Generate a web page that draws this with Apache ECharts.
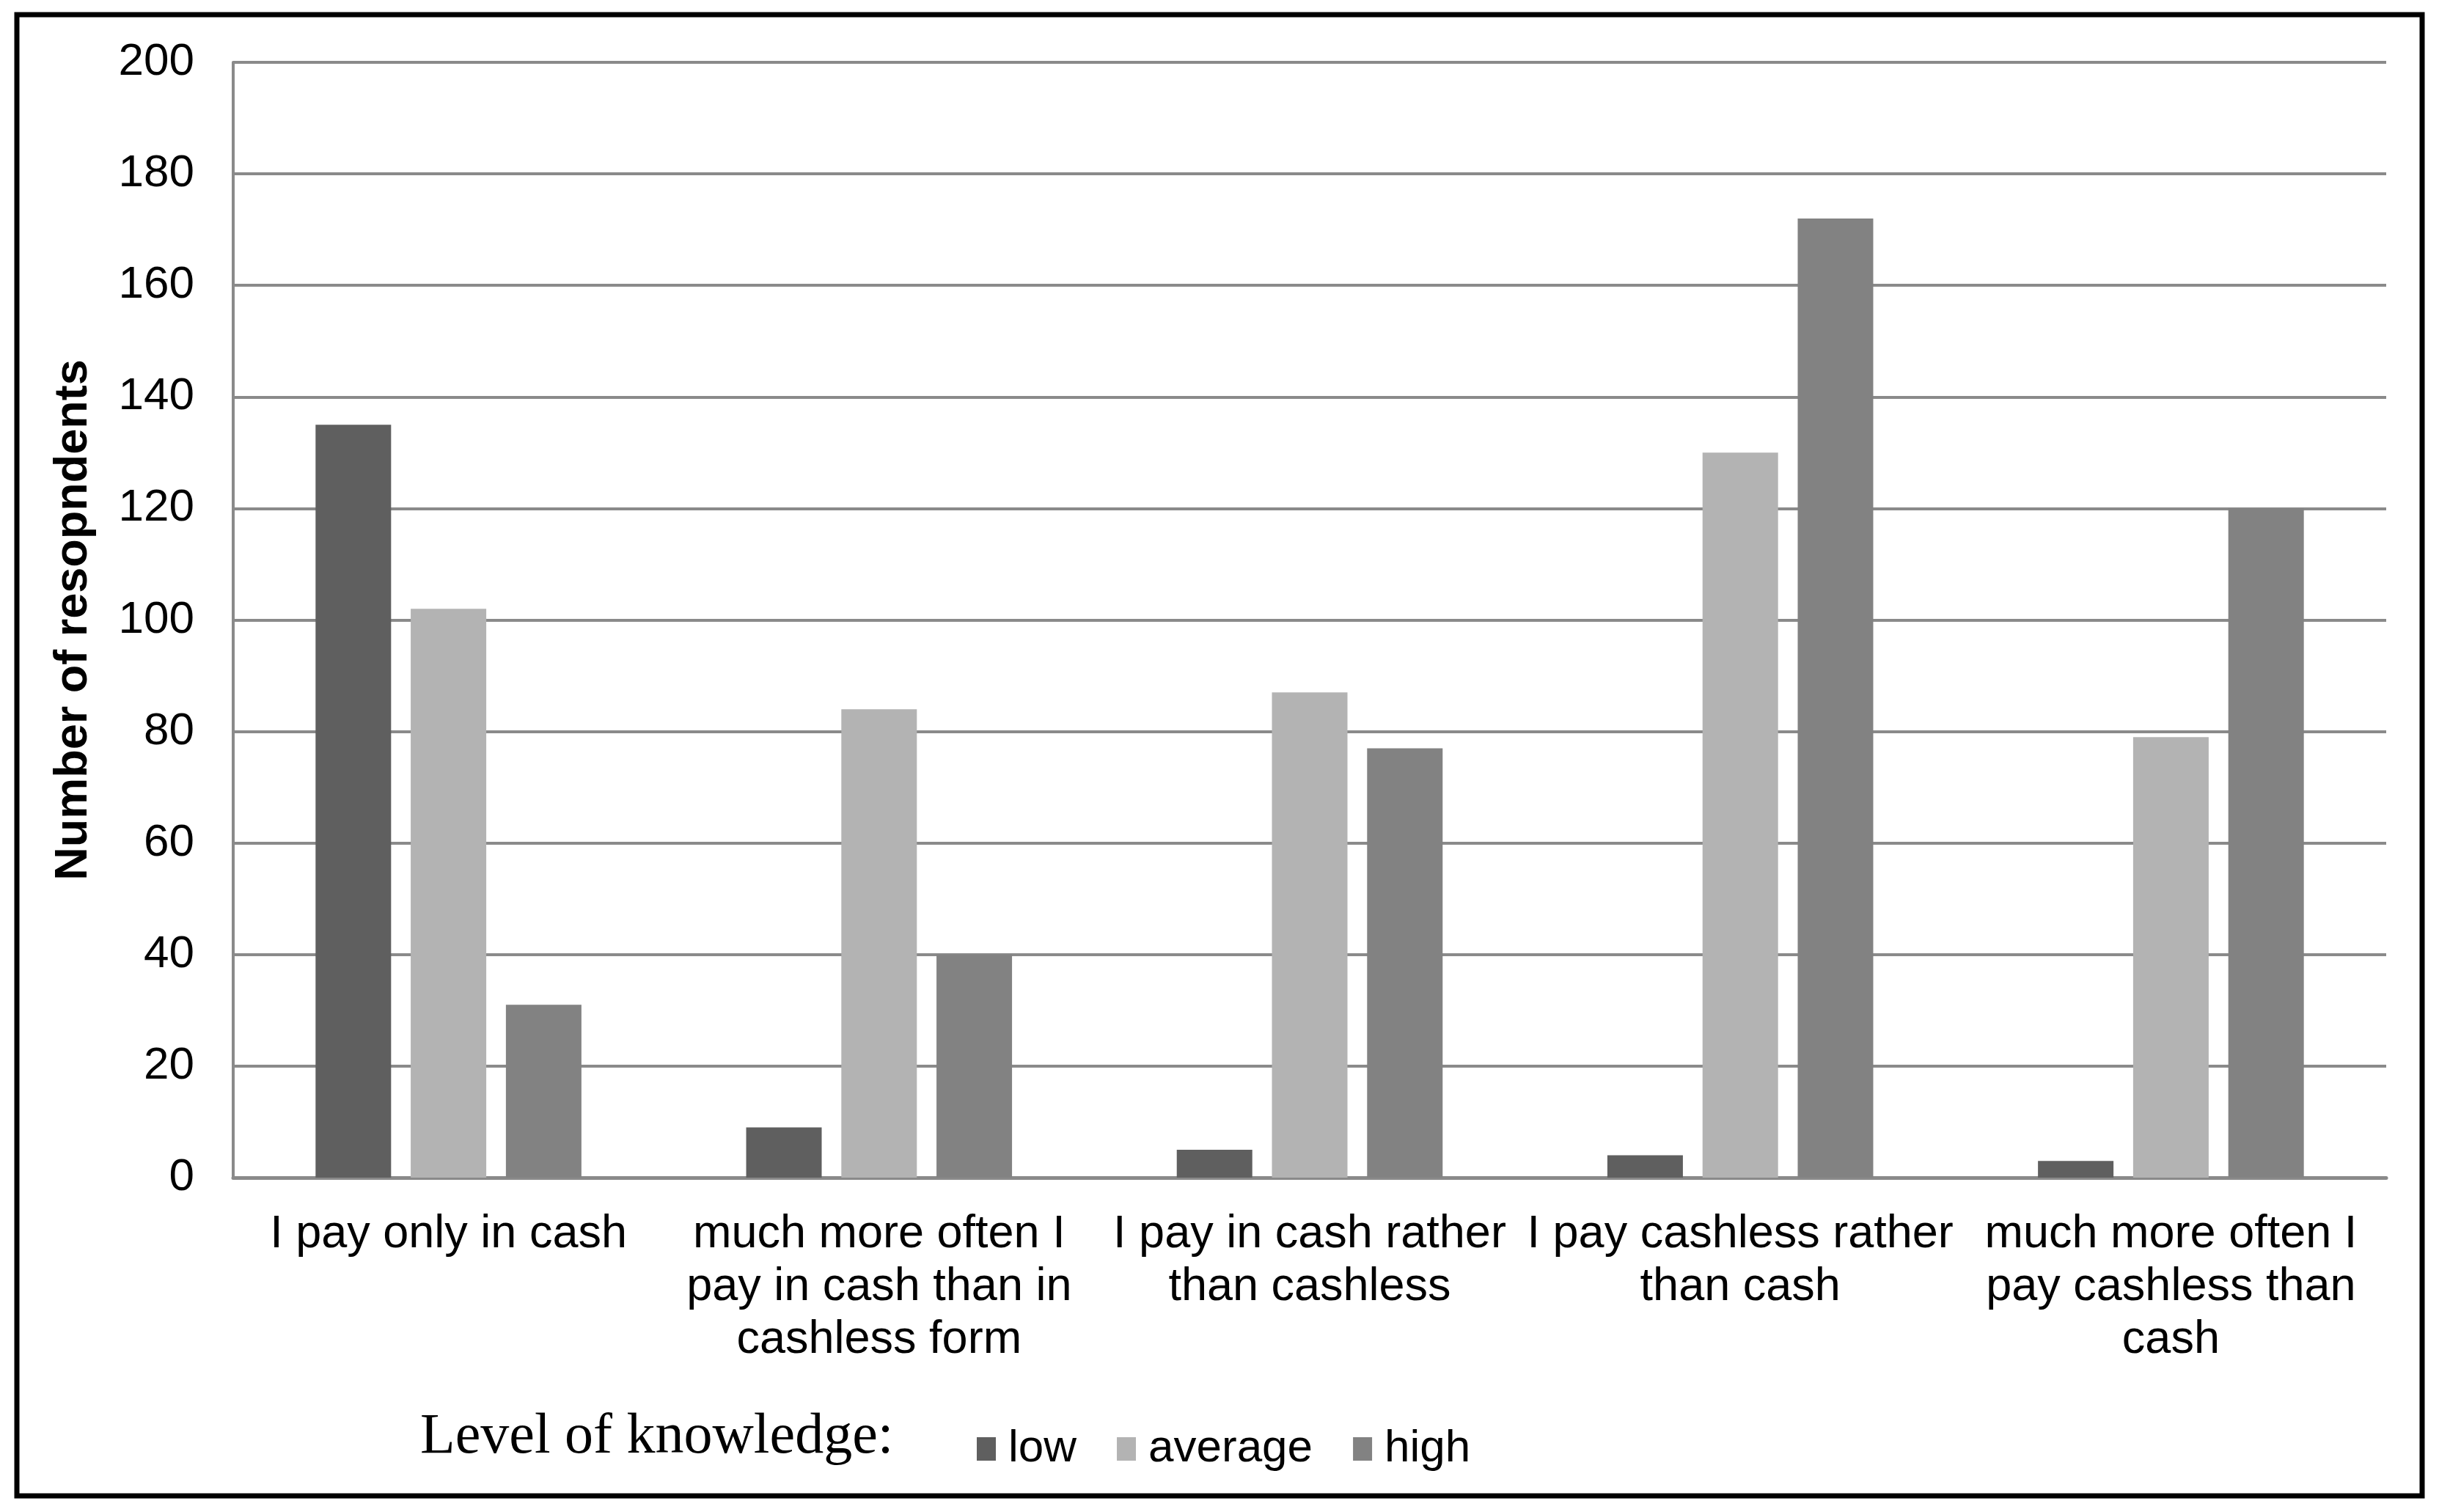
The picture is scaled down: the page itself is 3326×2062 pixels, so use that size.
<!DOCTYPE html>
<html>
<head>
<meta charset="utf-8">
<script src="https://cdn.jsdelivr.net/npm/echarts@6/dist/echarts.min.js"></script>
<style>
html,body{margin:0;padding:0;background:#fff;}
#chart{width:3326px;height:2062px;}
</style>
</head>
<body>
<div id="chart"></div>
<script>
const categories = [
  "I pay only in cash",
  "much more often I\npay in cash than in\ncashless form",
  "I pay in cash rather\nthan cashless",
  "I pay cashless rather\nthan cash",
  "much more often I\npay cashless than\ncash"
];
const seriesNames = ["low", "average", "high"];
const lowValues = [135, 9, 5, 4, 3];
const averageValues = [102, 84, 87, 130, 79];
const highValues = [31, 40, 77, 172, 120];
const yTicks = {min: 0, max: 200, interval: 20};
const yAxisTitle = "Number of resopndents";
const legendTitle = "Level of knowledge:";

const colors = ["#5f5f5f", "#b3b3b3", "#828282"];
const font = "'Liberation Sans', Arial, sans-serif";

const chart = echarts.init(document.getElementById('chart'), null, {renderer: 'canvas'});
const values = [lowValues, averageValues, highValues];

chart.setOption({
  animation: false,
  backgroundColor: '#ffffff',
  grid: {left: 318, right: 72, top: 85, bottom: 456, containLabel: false},
  legend: {
    left: 1327,
    top: 1940,
    itemWidth: 26,
    itemHeight: 32,
    itemGap: 55,
    icon: 'rect',
    data: seriesNames,
    textStyle: {fontFamily: font, fontSize: 62, color: '#000', padding: [0, 0, 0, 12]}
  },
  xAxis: {
    type: 'category',
    data: categories,
    axisLine: {show: true, lineStyle: {color: '#8a8a8a', width: 5}},
    axisTick: {show: false},
    axisLabel: {fontFamily: font, fontSize: 63, color: '#000', margin: 42, lineHeight: 72, interval: 0}
  },
  yAxis: {
    type: 'value',
    min: yTicks.min, max: yTicks.max, interval: yTicks.interval,
    name: yAxisTitle,
    nameLocation: 'middle',
    nameGap: 186,
    nameTextStyle: {fontFamily: font, fontSize: 63, fontWeight: 'bold', color: '#000'},
    axisLine: {show: true, lineStyle: {color: '#8a8a8a', width: 4}},
    axisTick: {show: false},
    axisLabel: {fontFamily: font, fontSize: 62, color: '#000', margin: 53},
    splitLine: {show: true, lineStyle: {color: '#8a8a8a', width: 4}}
  },
  series: seriesNames.map((n, i) => ({
    name: n,
    type: 'bar',
    data: values[i],
    barWidth: 103,
    barGap: '26%',
    itemStyle: {color: colors[i]}
  })),
  graphic: [
    {
      type: 'rect',
      shape: {x: 23, y: 20, width: 3280, height: 2020},
      style: {fill: 'none', stroke: '#000', lineWidth: 7},
      silent: true
    },
    {
      type: 'text',
      left: 573,
      top: 1922,
      style: {text: legendTitle, font: "78px 'Liberation Serif', 'Times New Roman', serif", fill: '#000'}
    }
  ]
});
</script>
</body>
</html>
